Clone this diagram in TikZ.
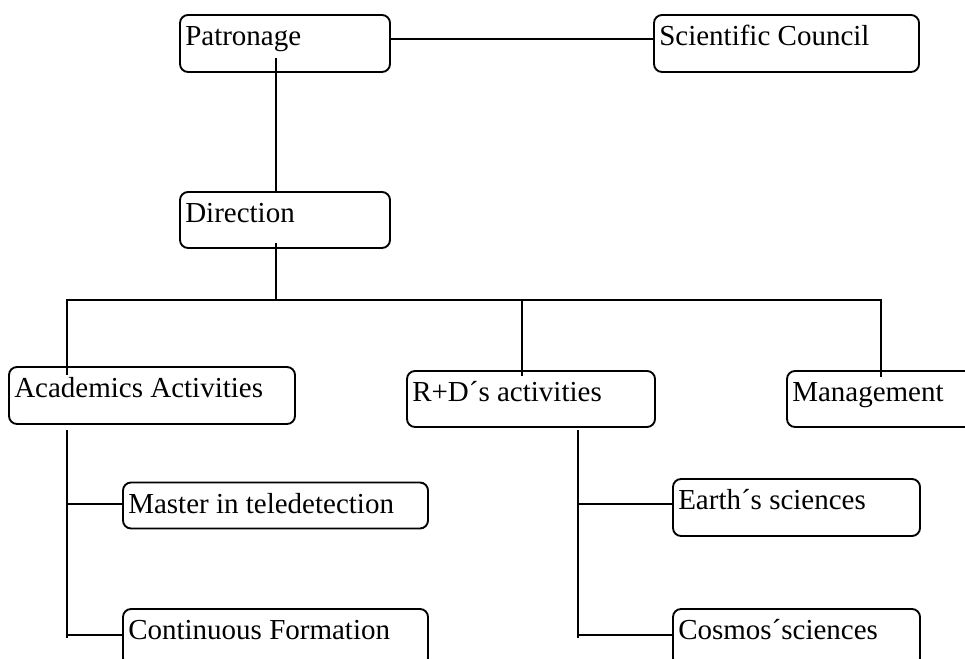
\documentclass[tikz,border=0pt]{standalone}
\usepackage{fontspec}
\setmainfont{Liberation Serif}
\usetikzlibrary{calc}
\begin{document}
\begin{tikzpicture}[x=0.75pt,y=-0.75pt,
  box/.style n args={2}{draw, line width=1.4pt, rounded corners=6pt, inner sep=0pt, outer sep=0pt,
    minimum width=#1*0.75pt, minimum height=#2*0.75pt},
  txt/.style={label={[anchor=base west, inner sep=0pt, xshift=3.75pt, yshift=-22.9pt,
    font=\fontsize{21.75}{26}\selectfont]north west:#1}},
  conn/.style={line width=1.4pt}]
\useasboundingbox (0,0) rectangle (965,659);

\node[box={210}{57}, txt=Patronage] (pat) at (285,43.5) {};
\node[box={265}{57}, txt=Scientific Council] (sc) at (786.5,43.5) {};
\node[box={210}{56}, txt=Direction] (dir) at (285,220) {};
\node[box={286}{57}, txt=Academics Activities] (aa) at (152,395.5) {};
\node[box={248}{56}, txt=R+D´s activities] (rd) at (531,399) {};
\node[box={200}{56}, txt=Management] (mg) at (887,399) {};
\node[box={305}{46}, txt=Master in teledetection] (mt) at (275.5,505.5) {};
\node[box={305}{57}, txt=Continuous Formation] (cf) at (275.5,637.5) {};
\node[box={247}{57}, txt=Earth´s sciences] (es) at (796.5,507.5) {};
\node[box={247}{57}, txt=Cosmos´sciences] (cs) at (796.5,637.5) {};

\coordinate (bus) at (276,300);
\coordinate (lt) at ($(aa.south)+(-85,6)$);
\coordinate (rt) at ($(rd.south)+(47,3)$);

\draw[conn] (pat.east |- 0,39) -- (sc.west |- 0,39);
\draw[conn] ($(pat.south)+(-9,-14)$) -- (dir.north -| 276,0);
\draw[conn] ($(dir.south)+(-9,-5)$) -- (bus);
\draw[conn] ($(aa.north)+(-85,8)$) |- (bus) -| ($(mg.north)+(-6,6)$);
\draw[conn] ($(rd.north)+(-9,5)$) -- ++(0,-76);

\draw[conn] (lt) -- ++(0,208);
\draw[conn] (lt |- 0,504) -- (mt.west |- 0,504);
\draw[conn] (lt |- 0,635) -- (cf.west |- 0,635);

\draw[conn] (rt) -- ++(0,208);
\draw[conn] (rt |- 0,504) -- (es.west |- 0,504);
\draw[conn] (rt |- 0,635) -- (cs.west |- 0,635);
\end{tikzpicture}
\end{document}
